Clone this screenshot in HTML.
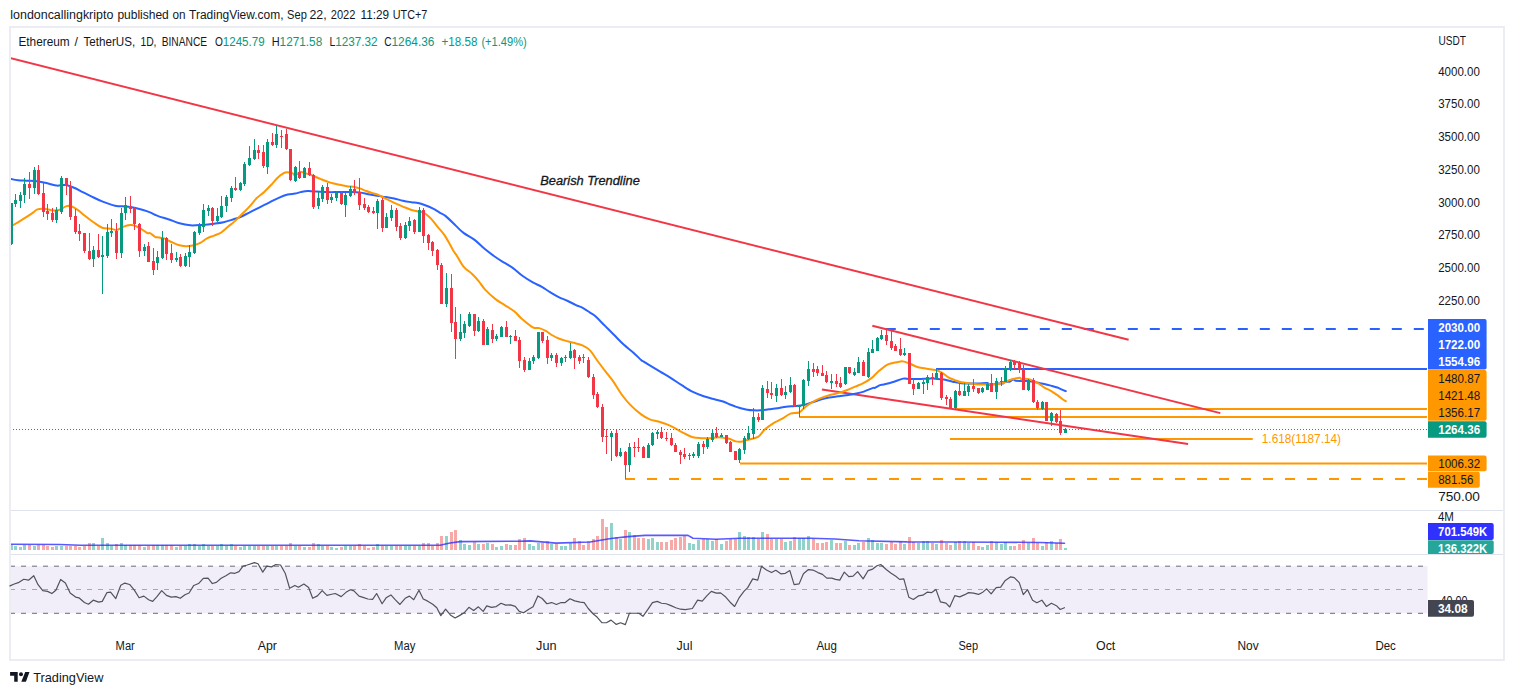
<!DOCTYPE html><html><head><meta charset="utf-8"><style>html,body{margin:0;padding:0;background:#fff;width:1514px;height:695px;overflow:hidden}svg{display:block}text{font-family:"Liberation Sans", sans-serif}</style></head><body>
<svg width="1514" height="695" viewBox="0 0 1514 695">
<rect width="1514" height="695" fill="#fff"/>
<text x="10.3" y="18.8" font-size="12.3" fill="#131722" textLength="103" lengthAdjust="spacingAndGlyphs">londoncallingkripto</text>
<text x="117.4" y="18.8" font-size="12.3" fill="#131722" textLength="51.4" lengthAdjust="spacingAndGlyphs">published</text>
<text x="172.4" y="18.8" font-size="12.3" fill="#131722" textLength="13" lengthAdjust="spacingAndGlyphs">on</text>
<text x="189.1" y="18.8" font-size="12.3" fill="#131722" textLength="94.4" lengthAdjust="spacingAndGlyphs">TradingView.com,</text>
<text x="287.1" y="18.8" font-size="12.3" fill="#131722" textLength="19.7" lengthAdjust="spacingAndGlyphs">Sep</text>
<text x="309.4" y="18.8" font-size="12.3" fill="#131722" textLength="17.2" lengthAdjust="spacingAndGlyphs">22,</text>
<text x="330.8" y="18.8" font-size="12.3" fill="#131722" textLength="24.6" lengthAdjust="spacingAndGlyphs">2022</text>
<text x="360.5" y="18.8" font-size="12.3" fill="#131722" textLength="28.6" lengthAdjust="spacingAndGlyphs">11:29</text>
<text x="392.8" y="18.8" font-size="12.3" fill="#131722" textLength="34.5" lengthAdjust="spacingAndGlyphs">UTC+7</text>
<rect x="10" y="27" width="1494" height="633" fill="none" stroke="#ebedf2" stroke-width="2"/>
<rect x="11" y="510" width="1492" height="1" fill="#e0e3eb"/>
<rect x="11" y="554" width="1492" height="1" fill="#e0e3eb"/>
<text x="74.6" y="45.9" font-size="12.3" fill="#131722">/</text>
<text x="18.4" y="45.9" font-size="12.3" fill="#131722" textLength="51.3" lengthAdjust="spacingAndGlyphs">Ethereum</text>
<text x="83.4" y="45.9" font-size="12.3" fill="#131722" textLength="51.8" lengthAdjust="spacingAndGlyphs">TetherUS,</text>
<text x="140.4" y="45.9" font-size="12.3" fill="#131722" textLength="16.1" lengthAdjust="spacingAndGlyphs">1D,</text>
<text x="161.7" y="45.9" font-size="12.3" fill="#131722" textLength="45.4" lengthAdjust="spacingAndGlyphs">BINANCE</text>
<text x="214.9" y="45.9" font-size="12.3" fill="#131722" textLength="7.9" lengthAdjust="spacingAndGlyphs">O</text>
<text x="271.7" y="45.9" font-size="12.3" fill="#131722" textLength="7.9" lengthAdjust="spacingAndGlyphs">H</text>
<text x="329.4" y="45.9" font-size="12.3" fill="#131722" textLength="5.8" lengthAdjust="spacingAndGlyphs">L</text>
<text x="384.3" y="45.9" font-size="12.3" fill="#131722" textLength="7.3" lengthAdjust="spacingAndGlyphs">C</text>
<text x="222.8" y="45.9" font-size="12.3" fill="#089981" textLength="41.8" lengthAdjust="spacingAndGlyphs">1245.79</text>
<text x="279.6" y="45.9" font-size="12.3" fill="#089981" textLength="42.6" lengthAdjust="spacingAndGlyphs">1271.58</text>
<text x="335.2" y="45.9" font-size="12.3" fill="#089981" textLength="42.4" lengthAdjust="spacingAndGlyphs">1237.32</text>
<text x="391.5" y="45.9" font-size="12.3" fill="#089981" textLength="42.9" lengthAdjust="spacingAndGlyphs">1264.36</text>
<text x="441.5" y="45.9" font-size="12.3" fill="#089981" textLength="35.9" lengthAdjust="spacingAndGlyphs">+18.58</text>
<text x="481.4" y="45.9" font-size="12.3" fill="#089981" textLength="45.4" lengthAdjust="spacingAndGlyphs">(+1.49%)</text>
<text x="1438.4" y="44.8" font-size="12.3" fill="#131722" textLength="27.5" lengthAdjust="spacingAndGlyphs">USDT</text>
<text x="1438.2" y="75.8" font-size="12.3" fill="#131722" textLength="41.7" lengthAdjust="spacingAndGlyphs">4000.00</text>
<text x="1438.2" y="108.48" font-size="12.3" fill="#131722" textLength="41.7" lengthAdjust="spacingAndGlyphs">3750.00</text>
<text x="1438.2" y="141.16" font-size="12.3" fill="#131722" textLength="41.7" lengthAdjust="spacingAndGlyphs">3500.00</text>
<text x="1438.2" y="173.84" font-size="12.3" fill="#131722" textLength="41.7" lengthAdjust="spacingAndGlyphs">3250.00</text>
<text x="1438.2" y="206.52" font-size="12.3" fill="#131722" textLength="41.7" lengthAdjust="spacingAndGlyphs">3000.00</text>
<text x="1438.2" y="239.2" font-size="12.3" fill="#131722" textLength="41.7" lengthAdjust="spacingAndGlyphs">2750.00</text>
<text x="1438.2" y="271.88" font-size="12.3" fill="#131722" textLength="41.7" lengthAdjust="spacingAndGlyphs">2500.00</text>
<text x="1438.2" y="304.56" font-size="12.3" fill="#131722" textLength="41.7" lengthAdjust="spacingAndGlyphs">2250.00</text>
<text x="1438.2" y="500.64" font-size="12.3" fill="#131722" textLength="41.7" lengthAdjust="spacingAndGlyphs">750.00</text>
<defs><clipPath id="cp"><rect x="11" y="28" width="1416" height="482"/></clipPath></defs>
<g clip-path="url(#cp)">
<line x1="885.8" y1="329" x2="1428" y2="329" stroke="#2962ff" stroke-width="2" stroke-dasharray="10 12"/>
<line x1="936" y1="369" x2="1428" y2="369" stroke="#2962ff" stroke-width="2"/>
<line x1="955" y1="409" x2="1428" y2="409" stroke="#ff9800" stroke-width="2"/>
<line x1="799" y1="417" x2="1428" y2="417" stroke="#ff9800" stroke-width="2"/>
<line x1="950" y1="438.9" x2="1252.7" y2="438.9" stroke="#ff9800" stroke-width="2"/>
<line x1="740" y1="463.4" x2="1428" y2="463.4" stroke="#ff9800" stroke-width="2"/>
<line x1="625" y1="479" x2="1428" y2="479" stroke="#ff9800" stroke-width="2" stroke-dasharray="10 12"/>
<line x1="10" y1="58" x2="1128.6" y2="339.8" stroke="#f23645" stroke-width="2"/>
<line x1="872.3" y1="325.7" x2="1220.3" y2="413.1" stroke="#f23645" stroke-width="2"/>
<line x1="821.9" y1="389.6" x2="1188.1" y2="444" stroke="#f23645" stroke-width="2"/>
<path fill="none" stroke="#2962ff" stroke-width="2" stroke-linejoin="round" stroke-linecap="round" d="M9.32 178.49 C10.76 178.78 15.07 179.86 17.95 180.22 C20.83 180.58 23.35 180.47 26.58 180.65 C29.82 180.83 33.78 180.83 37.37 181.29 C40.97 181.76 44.93 182.73 48.17 183.45 C51.4 184.17 53.92 185.36 56.8 185.61 C59.68 185.86 62.55 184.6 65.43 184.96 C68.31 185.32 71.19 186.58 74.06 187.77 C76.94 188.96 79.82 190.65 82.7 192.09 C85.58 193.53 88.09 194.86 91.33 196.4 C94.57 197.95 98.17 199.82 102.12 201.37 C106.08 202.91 111.12 204.82 115.07 205.68 C119.03 206.55 122.63 206.19 125.86 206.55 C129.1 206.91 131.62 207.27 134.5 207.84 C137.37 208.42 140.55 209.26 143.13 210 C145.71 210.74 148.02 211.52 150 212.31 C151.98 213.1 153.42 214.04 155 214.75 C156.58 215.46 157.16 215.8 159.49 216.58 C161.82 217.36 165.82 218.36 168.99 219.43 C172.15 220.5 174.92 222 178.48 222.99 C182.04 223.98 186.39 225.05 190.35 225.36 C194.3 225.68 198.26 225.17 202.22 224.89 C206.17 224.61 210.52 224.14 214.08 223.7 C217.64 223.27 220.41 222.99 223.58 222.28 C226.74 221.57 230.3 220.3 233.07 219.43 C235.84 218.56 237.42 218.24 240.19 217.06 C242.96 215.87 246.52 213.89 249.68 212.31 C252.85 210.73 256.01 209.15 259.18 207.56 C262.34 205.98 265.51 204.4 268.67 202.82 C271.84 201.23 275 199.45 278.16 198.07 C281.33 196.69 284.85 195.25 287.66 194.51 C290.46 193.76 292.82 194 295 193.6 C297.18 193.2 298.58 192.54 300.74 192.11 C302.9 191.68 305.67 191.12 307.95 191.01 C310.23 190.9 311.19 191.26 314.42 191.44 C317.66 191.62 323.42 191.98 327.37 192.09 C331.33 192.19 334.57 192.09 338.17 192.09 C341.76 192.09 345.36 192.01 348.96 192.09 C352.55 192.16 356.51 192.16 359.75 192.52 C362.99 192.88 365.5 193.71 368.38 194.24 C371.26 194.78 374.14 195.29 377.01 195.76 C379.89 196.22 382.77 196.58 385.65 197.05 C388.53 197.52 391.4 197.95 394.28 198.56 C397.16 199.17 400.04 200.11 402.91 200.72 C405.79 201.33 409.03 201.83 411.55 202.23 C414.06 202.63 415.86 202.63 418.02 203.09 C420.18 203.56 421.98 204.1 424.5 205.04 C427.01 205.97 430.61 207.45 433.13 208.71 C435.65 209.96 437.5 211.36 439.6 212.59 C441.7 213.82 443 213.89 445.73 216.11 C448.45 218.33 452.93 223.04 455.95 225.89 C458.97 228.73 460.7 230.79 463.86 233.16 C467.03 235.54 471.43 237.48 474.94 240.13 C478.44 242.77 481.35 246.11 484.88 249.02 C488.41 251.92 492.8 255.23 496.12 257.55 C499.43 259.88 501.87 261.15 504.75 262.95 C507.63 264.75 510.5 266.26 513.38 268.35 C516.26 270.43 518.78 273.13 522.01 275.47 C525.25 277.81 529.57 280.5 532.81 282.37 C536.04 284.24 538.56 285.07 541.44 286.69 C544.32 288.31 547.19 290.36 550.07 292.09 C552.95 293.81 555.83 295.61 558.71 297.05 C561.58 298.49 564.46 299.39 567.34 300.72 C570.22 302.05 573.27 303.78 575.97 305.04 C578.67 306.29 581.19 307.01 583.53 308.27 C585.86 309.53 588.06 311.29 590 312.59 C591.94 313.89 592.74 313.91 595.19 316.08 C597.64 318.24 601.52 322.41 604.68 325.57 C607.85 328.73 611.01 331.9 614.18 335.06 C617.34 338.23 620.51 341.66 623.67 344.56 C626.84 347.46 630.26 349.89 633.16 352.47 C636.07 355.04 639.53 358.58 641.12 360 C642.7 361.42 641.22 360.11 642.66 361.01 C644.1 361.91 646.77 363.59 649.75 365.4 C652.73 367.21 656.94 369.71 660.54 371.87 C664.14 374.03 667.73 376.08 671.33 378.35 C674.93 380.61 678.53 383.2 682.12 385.47 C685.72 387.73 689.32 390.14 692.91 391.94 C696.51 393.74 700.11 395.04 703.71 396.26 C707.3 397.48 711.26 398.42 714.5 399.28 C717.73 400.14 720.55 400.56 723.13 401.44 C725.71 402.31 728.02 403.71 730 404.53 C731.98 405.36 733.56 405.9 735 406.4 C736.44 406.91 736.59 407 738.63 407.55 C740.68 408.11 744.75 409.24 747.27 409.71 C749.78 410.18 751.58 410.25 753.74 410.36 C755.9 410.47 757.7 410.54 760.22 410.36 C762.73 410.18 765.97 409.64 768.85 409.28 C771.73 408.92 774.6 408.63 777.48 408.2 C780.36 407.77 783.24 407.05 786.12 406.69 C788.99 406.33 791.87 406.33 794.75 406.04 C797.63 405.76 800.5 405.58 803.38 404.96 C806.26 404.35 809.14 403.27 812.01 402.37 C814.89 401.47 817.77 400.4 820.65 399.57 C823.53 398.74 826.4 397.95 829.28 397.41 C832.16 396.87 835.04 396.69 837.91 396.33 C840.79 395.97 843.67 395.68 846.55 395.25 C849.42 394.82 852.3 394.35 855.18 393.74 C858.06 393.13 860.94 392.52 863.81 391.58 C866.69 390.65 870.58 388.78 872.45 388.13 C874.31 387.48 873.74 388.2 875 387.7 C876.26 387.19 878.56 385.65 880 385.11 C881.44 384.57 881.59 384.93 883.63 384.46 C885.68 383.99 889.03 383.27 892.27 382.3 C895.5 381.33 900.18 379.17 903.06 378.63 C905.94 378.09 907.01 378.99 909.53 379.06 C912.05 379.14 914.93 379.14 918.17 379.06 C921.4 378.99 926.08 378.71 928.96 378.63 C931.83 378.56 932.91 378.49 935.43 378.63 C937.95 378.78 941.19 378.99 944.06 379.5 C946.94 380 949.82 381.01 952.7 381.65 C955.58 382.3 958.45 383.09 961.33 383.38 C964.21 383.67 967.09 383.38 969.96 383.38 C972.84 383.38 975.72 383.45 978.6 383.38 C981.47 383.31 985.33 382.68 987.23 382.95 C989.13 383.22 988.51 384.86 990 384.97 C991.49 385.09 994.01 383.9 996.17 383.64 C998.33 383.38 1001.57 383.75 1002.95 383.42 C1004.34 383.09 1003.42 381.94 1004.5 381.65 C1005.58 381.37 1007.99 382.1 1009.43 381.74 C1010.87 381.38 1012.05 379.65 1013.13 379.5 C1014.21 379.35 1014.52 380.57 1015.91 380.83 C1017.29 381.08 1019.7 380.98 1021.43 381.03 C1023.15 381.07 1024.38 380.97 1026.27 381.09 C1028.16 381.21 1030.59 381.41 1032.75 381.74 C1034.91 382.06 1037.28 382.66 1039.22 383.03 C1041.17 383.4 1042.46 383.51 1044.4 383.94 C1046.35 384.37 1048.72 385.02 1050.88 385.62 C1053.04 386.23 1055.41 386.85 1057.36 387.56 C1059.3 388.28 1061.14 389.29 1062.54 389.9 C1063.94 390.5 1065.24 390.98 1065.78 391.19"/>
<path fill="none" stroke="#ff9800" stroke-width="2" stroke-linejoin="round" stroke-linecap="round" d="M11.47 225.97 C12.55 225.36 15.43 223.81 17.95 222.3 C20.47 220.79 24.06 218.53 26.58 216.91 C29.1 215.29 31.26 213.85 33.06 212.59 C34.86 211.33 35.58 210 37.37 209.35 C39.17 208.71 41.33 208.53 43.85 208.71 C46.37 208.88 49.96 210.22 52.48 210.43 C55 210.65 56.62 210.72 58.96 210 C61.29 209.28 64.35 206.69 66.51 206.12 C68.67 205.54 69.93 205.83 71.91 206.55 C73.88 207.27 76.22 208.88 78.38 210.43 C80.54 211.98 82.34 213.85 84.86 215.83 C87.37 217.81 90.61 220.32 93.49 222.3 C96.37 224.28 99.24 226.62 102.12 227.7 C105 228.78 108.24 228.42 110.76 228.78 C113.27 229.14 115.07 230.22 117.23 229.86 C119.39 229.5 121.55 227.41 123.71 226.62 C125.86 225.83 128.38 225.29 130.18 225.11 C131.98 224.93 132.7 224.93 134.5 225.54 C136.29 226.15 138.81 227.52 140.97 228.78 C143.13 230.04 145.94 232.36 147.45 233.09 C148.95 233.83 148.74 232.58 150 233.2 C151.26 233.81 153.81 236.09 155 236.76 C156.19 237.44 155.58 236.96 157.12 237.23 C158.66 237.51 161.87 237.63 164.24 238.42 C166.61 239.21 168.99 240.87 171.36 241.98 C173.73 243.09 176.11 244.35 178.48 245.06 C180.85 245.78 183.23 246.17 185.6 246.25 C187.97 246.33 190.35 246.05 192.72 245.54 C195.09 245.02 197.47 244.35 199.84 243.16 C202.22 241.98 204.59 239.68 206.96 238.42 C209.34 237.15 211.71 236.56 214.08 235.57 C216.46 234.58 218.83 233.99 221.2 232.48 C223.58 230.98 225.95 228.53 228.32 226.55 C230.7 224.57 233.07 222.79 235.44 220.62 C237.82 218.44 240.19 215.87 242.56 213.5 C244.94 211.12 247.31 208.95 249.68 206.38 C252.06 203.81 254.43 200.44 256.8 198.07 C259.18 195.7 261.55 194.31 263.92 192.14 C266.3 189.96 268.67 187.51 271.04 185.02 C273.42 182.52 275.79 179.28 278.16 177.18 C280.54 175.09 282.91 173.11 285.28 172.44 C287.66 171.76 290.79 172.64 292.41 173.15 C294.02 173.65 293.73 175.67 295 175.47 C296.27 175.27 298.56 172.43 300 171.96 C301.44 171.49 301.59 172.08 303.63 172.66 C305.68 173.25 309.39 174.39 312.27 175.47 C315.14 176.55 318.02 177.99 320.9 179.14 C323.78 180.29 326.65 181.47 329.53 182.37 C332.41 183.27 335.29 183.88 338.17 184.53 C341.04 185.18 344.28 185.9 346.8 186.26 C349.32 186.62 351.12 186.33 353.27 186.69 C355.43 187.05 357.59 187.7 359.75 188.42 C361.91 189.14 364.06 190.22 366.22 191.01 C368.38 191.8 370.54 192.45 372.7 193.17 C374.86 193.88 377.01 194.42 379.17 195.32 C381.33 196.22 383.13 197.3 385.65 198.56 C388.17 199.82 391.4 201.55 394.28 202.88 C397.16 204.21 400.04 205.36 402.91 206.55 C405.79 207.73 409.03 209.17 411.55 210 C414.06 210.83 415.86 211.01 418.02 211.51 C420.18 212.01 422.34 211.83 424.5 213.02 C426.65 214.21 428.81 216.37 430.97 218.63 C433.13 220.9 435.11 223.74 437.45 226.62 C439.78 229.5 442.42 232 445 235.9 C447.58 239.8 450.91 246.57 452.95 250 C454.99 253.43 455.47 253.67 457.27 256.47 C459.06 259.28 461.22 263.88 463.74 266.83 C466.26 269.78 469.86 271.76 472.37 274.17 C474.89 276.58 476.69 278.67 478.85 281.29 C481.01 283.92 482.45 286.87 485.32 289.93 C488.2 292.99 492.88 297.12 496.12 299.64 C499.35 302.16 501.69 303.06 504.75 305.04 C507.81 307.01 511.58 309.17 514.46 311.51 C517.34 313.85 518.96 316.44 522.01 319.06 C525.07 321.69 529.93 325.76 532.81 327.27 C535.68 328.78 537.12 327.52 539.28 328.13 C541.44 328.74 543.6 329.75 545.76 330.94 C547.91 332.12 550.07 333.99 552.23 335.25 C554.39 336.51 556.55 337.59 558.71 338.49 C560.86 339.39 562.66 339.93 565.18 340.65 C567.7 341.37 570.94 342.01 573.81 342.81 C576.69 343.6 579.75 344.14 582.45 345.4 C585.14 346.65 587.6 347.93 590 350.36 C592.4 352.79 594.11 356.24 596.87 360 C599.63 363.76 603.88 369.42 606.58 372.95 C609.28 376.47 610.54 377.55 613.06 381.15 C615.58 384.75 618.81 390.58 621.69 394.53 C624.57 398.49 627.09 401.58 630.32 404.89 C633.56 408.2 637.88 411.98 641.12 414.39 C644.35 416.8 646.87 418.17 649.75 419.35 C652.63 420.54 655.5 420.68 658.38 421.51 C661.26 422.34 664.14 423.13 667.01 424.32 C669.89 425.5 672.77 427.12 675.65 428.63 C678.53 430.14 681.4 431.94 684.28 433.38 C687.16 434.82 690.04 436.47 692.91 437.27 C695.79 438.06 698.67 437.99 701.55 438.13 C704.42 438.27 707.3 438.27 710.18 438.13 C713.06 437.99 716.29 437.27 718.81 437.27 C721.33 437.27 723.42 437.83 725.29 438.13 C727.15 438.43 728.26 438.52 730 439.06 C731.74 439.61 733.94 440.97 735.74 441.4 C737.54 441.83 738.87 441.9 740.79 441.65 C742.71 441.41 744.39 440.72 747.27 439.93 C750.14 439.14 755.18 438.6 758.06 436.91 C760.94 435.22 762.01 432.05 764.53 429.78 C767.05 427.52 770.29 425.11 773.17 423.31 C776.04 421.51 778.92 420.61 781.8 418.99 C784.68 417.37 787.55 414.68 790.43 413.6 C793.31 412.52 796.55 413.67 799.06 412.52 C801.58 411.37 803.38 408.38 805.54 406.69 C807.7 405 809.5 403.81 812.01 402.37 C814.53 400.94 817.77 399.24 820.65 398.06 C823.53 396.87 826.4 396.08 829.28 395.25 C832.16 394.42 835.04 393.92 837.91 393.09 C840.79 392.27 843.67 391.37 846.55 390.29 C849.42 389.21 852.3 387.84 855.18 386.62 C858.06 385.4 860.94 384.5 863.81 382.95 C866.69 381.4 870.58 378.71 872.45 377.34 C874.31 375.97 873.62 376.04 875 374.75 C876.38 373.45 878.58 371.29 880.74 369.57 C882.9 367.84 885.31 365.61 887.95 364.39 C890.59 363.17 894.06 362.73 896.58 362.23 C899.1 361.73 900.9 361.15 903.06 361.37 C905.22 361.58 907.01 362.55 909.53 363.53 C912.05 364.5 915.29 366.33 918.17 367.19 C921.04 368.06 923.92 368.24 926.8 368.71 C929.68 369.17 932.91 369.35 935.43 370 C937.95 370.65 939.75 371.37 941.91 372.59 C944.06 373.81 946.22 376.08 948.38 377.34 C950.54 378.6 952.7 379.32 954.86 380.14 C957.01 380.97 958.81 381.76 961.33 382.3 C963.85 382.84 967.09 383.02 969.96 383.38 C972.84 383.74 975.72 384.28 978.6 384.46 C981.47 384.64 985.33 384.48 987.23 384.46 C989.13 384.44 988.51 384.37 990 384.33 C991.49 384.28 994.06 384.42 996.17 384.2 C998.28 383.98 1000.49 383.64 1002.65 382.99 C1004.8 382.34 1006.96 381.05 1009.12 380.29 C1011.28 379.53 1013.82 378.84 1015.6 378.44 C1017.38 378.03 1018.77 377.67 1019.79 377.85 C1020.82 378.03 1021.11 379.35 1021.76 379.5 C1022.41 379.65 1022.5 378.82 1023.68 378.76 C1024.86 378.7 1027.13 378.76 1028.86 379.15 C1030.59 379.53 1032.31 380.29 1034.04 381.09 C1035.77 381.89 1037.5 382.86 1039.22 383.94 C1040.95 385.02 1042.46 386.42 1044.4 387.56 C1046.35 388.71 1048.72 389.55 1050.88 390.8 C1053.04 392.06 1055.41 393.67 1057.36 395.08 C1059.3 396.48 1061.14 398.21 1062.54 399.22 C1063.94 400.24 1065.24 400.84 1065.78 401.17"/>
<rect x="11" y="203" width="1" height="42" fill="#089981"/>
<rect x="10" y="203" width="3" height="41" fill="#089981"/>
<rect x="15" y="194" width="1" height="13" fill="#089981"/>
<rect x="14" y="200" width="3" height="4" fill="#089981"/>
<rect x="20" y="192" width="1" height="16" fill="#089981"/>
<rect x="19" y="195" width="3" height="6" fill="#089981"/>
<rect x="24" y="178" width="1" height="25" fill="#089981"/>
<rect x="23" y="184" width="3" height="11" fill="#089981"/>
<rect x="29" y="172" width="1" height="27" fill="#f23645"/>
<rect x="28" y="184" width="3" height="4" fill="#f23645"/>
<rect x="34" y="167" width="1" height="27" fill="#089981"/>
<rect x="33" y="170" width="3" height="18" fill="#089981"/>
<rect x="38" y="165" width="1" height="30" fill="#f23645"/>
<rect x="37" y="170" width="3" height="24" fill="#f23645"/>
<rect x="43" y="183" width="1" height="34" fill="#f23645"/>
<rect x="42" y="193" width="3" height="19" fill="#f23645"/>
<rect x="47" y="204" width="1" height="16" fill="#f23645"/>
<rect x="46" y="211" width="3" height="3" fill="#f23645"/>
<rect x="52" y="208" width="1" height="14" fill="#f23645"/>
<rect x="51" y="213" width="3" height="7" fill="#f23645"/>
<rect x="56" y="207" width="1" height="16" fill="#089981"/>
<rect x="55" y="210" width="3" height="10" fill="#089981"/>
<rect x="61" y="176" width="1" height="38" fill="#089981"/>
<rect x="60" y="178" width="3" height="34" fill="#089981"/>
<rect x="66" y="178" width="1" height="17" fill="#f23645"/>
<rect x="65" y="178" width="3" height="8" fill="#f23645"/>
<rect x="70" y="181" width="1" height="39" fill="#f23645"/>
<rect x="69" y="186" width="3" height="31" fill="#f23645"/>
<rect x="75" y="209" width="1" height="25" fill="#f23645"/>
<rect x="74" y="216" width="3" height="16" fill="#f23645"/>
<rect x="79" y="224" width="1" height="17" fill="#f23645"/>
<rect x="78" y="231" width="3" height="3" fill="#f23645"/>
<rect x="84" y="233" width="1" height="20" fill="#f23645"/>
<rect x="83" y="233" width="3" height="18" fill="#f23645"/>
<rect x="89" y="233" width="1" height="27" fill="#f23645"/>
<rect x="88" y="251" width="3" height="8" fill="#f23645"/>
<rect x="93" y="246" width="1" height="21" fill="#089981"/>
<rect x="92" y="250" width="3" height="9" fill="#089981"/>
<rect x="98" y="234" width="1" height="24" fill="#f23645"/>
<rect x="97" y="250" width="3" height="7" fill="#f23645"/>
<rect x="102" y="236" width="1" height="58" fill="#089981"/>
<rect x="101" y="255" width="3" height="2" fill="#089981"/>
<rect x="107" y="224" width="1" height="34" fill="#089981"/>
<rect x="106" y="232" width="3" height="24" fill="#089981"/>
<rect x="111" y="219" width="1" height="18" fill="#089981"/>
<rect x="110" y="231" width="3" height="2" fill="#089981"/>
<rect x="116" y="223" width="1" height="36" fill="#f23645"/>
<rect x="115" y="231" width="3" height="22" fill="#f23645"/>
<rect x="121" y="208" width="1" height="50" fill="#089981"/>
<rect x="120" y="213" width="3" height="40" fill="#089981"/>
<rect x="125" y="197" width="1" height="23" fill="#089981"/>
<rect x="124" y="205" width="3" height="8" fill="#089981"/>
<rect x="130" y="196" width="1" height="17" fill="#f23645"/>
<rect x="129" y="206" width="3" height="3" fill="#f23645"/>
<rect x="134" y="207" width="1" height="23" fill="#f23645"/>
<rect x="133" y="208" width="3" height="16" fill="#f23645"/>
<rect x="139" y="223" width="1" height="34" fill="#f23645"/>
<rect x="138" y="224" width="3" height="27" fill="#f23645"/>
<rect x="144" y="244" width="1" height="12" fill="#089981"/>
<rect x="143" y="247" width="3" height="4" fill="#089981"/>
<rect x="148" y="242" width="1" height="20" fill="#f23645"/>
<rect x="147" y="246" width="3" height="16" fill="#f23645"/>
<rect x="153" y="248" width="1" height="27" fill="#f23645"/>
<rect x="152" y="261" width="3" height="9" fill="#f23645"/>
<rect x="157" y="251" width="1" height="19" fill="#089981"/>
<rect x="156" y="257" width="3" height="6" fill="#089981"/>
<rect x="162" y="231" width="1" height="28" fill="#089981"/>
<rect x="161" y="238" width="3" height="20" fill="#089981"/>
<rect x="166" y="237" width="1" height="23" fill="#f23645"/>
<rect x="165" y="238" width="3" height="16" fill="#f23645"/>
<rect x="171" y="244" width="1" height="19" fill="#f23645"/>
<rect x="170" y="253" width="3" height="7" fill="#f23645"/>
<rect x="176" y="252" width="1" height="10" fill="#089981"/>
<rect x="175" y="258" width="3" height="2" fill="#089981"/>
<rect x="180" y="254" width="1" height="13" fill="#f23645"/>
<rect x="179" y="257" width="3" height="9" fill="#f23645"/>
<rect x="185" y="253" width="1" height="14" fill="#089981"/>
<rect x="184" y="256" width="3" height="10" fill="#089981"/>
<rect x="189" y="245" width="1" height="22" fill="#089981"/>
<rect x="188" y="252" width="3" height="5" fill="#089981"/>
<rect x="194" y="231" width="1" height="23" fill="#089981"/>
<rect x="193" y="232" width="3" height="21" fill="#089981"/>
<rect x="199" y="223" width="1" height="12" fill="#089981"/>
<rect x="198" y="226" width="3" height="7" fill="#089981"/>
<rect x="203" y="204" width="1" height="28" fill="#089981"/>
<rect x="202" y="210" width="3" height="17" fill="#089981"/>
<rect x="208" y="205" width="1" height="11" fill="#089981"/>
<rect x="207" y="208" width="3" height="3" fill="#089981"/>
<rect x="212" y="207" width="1" height="19" fill="#f23645"/>
<rect x="211" y="208" width="3" height="13" fill="#f23645"/>
<rect x="217" y="208" width="1" height="16" fill="#089981"/>
<rect x="216" y="216" width="3" height="5" fill="#089981"/>
<rect x="221" y="196" width="1" height="22" fill="#089981"/>
<rect x="220" y="206" width="3" height="11" fill="#089981"/>
<rect x="226" y="195" width="1" height="17" fill="#089981"/>
<rect x="225" y="197" width="3" height="9" fill="#089981"/>
<rect x="231" y="186" width="1" height="16" fill="#089981"/>
<rect x="230" y="188" width="3" height="10" fill="#089981"/>
<rect x="235" y="177" width="1" height="14" fill="#f23645"/>
<rect x="234" y="188" width="3" height="2" fill="#f23645"/>
<rect x="240" y="182" width="1" height="9" fill="#089981"/>
<rect x="239" y="183" width="3" height="7" fill="#089981"/>
<rect x="244" y="162" width="1" height="24" fill="#089981"/>
<rect x="243" y="164" width="3" height="20" fill="#089981"/>
<rect x="249" y="146" width="1" height="20" fill="#089981"/>
<rect x="248" y="158" width="3" height="7" fill="#089981"/>
<rect x="254" y="139" width="1" height="21" fill="#089981"/>
<rect x="253" y="150" width="3" height="9" fill="#089981"/>
<rect x="258" y="145" width="1" height="14" fill="#f23645"/>
<rect x="257" y="150" width="3" height="3" fill="#f23645"/>
<rect x="263" y="145" width="1" height="23" fill="#f23645"/>
<rect x="262" y="152" width="3" height="14" fill="#f23645"/>
<rect x="267" y="139" width="1" height="35" fill="#089981"/>
<rect x="266" y="142" width="3" height="25" fill="#089981"/>
<rect x="272" y="133" width="1" height="13" fill="#f23645"/>
<rect x="271" y="142" width="3" height="3" fill="#f23645"/>
<rect x="276" y="126" width="1" height="22" fill="#089981"/>
<rect x="275" y="134" width="3" height="11" fill="#089981"/>
<rect x="281" y="130" width="1" height="18" fill="#f23645"/>
<rect x="280" y="136" width="3" height="1" fill="#f23645"/>
<rect x="286" y="129" width="1" height="21" fill="#f23645"/>
<rect x="285" y="134" width="3" height="15" fill="#f23645"/>
<rect x="290" y="149" width="1" height="32" fill="#f23645"/>
<rect x="289" y="149" width="3" height="31" fill="#f23645"/>
<rect x="295" y="166" width="1" height="16" fill="#089981"/>
<rect x="294" y="167" width="3" height="14" fill="#089981"/>
<rect x="299" y="161" width="1" height="18" fill="#f23645"/>
<rect x="298" y="172" width="3" height="6" fill="#f23645"/>
<rect x="304" y="167" width="1" height="11" fill="#089981"/>
<rect x="303" y="168" width="3" height="10" fill="#089981"/>
<rect x="309" y="162" width="1" height="14" fill="#f23645"/>
<rect x="308" y="168" width="3" height="7" fill="#f23645"/>
<rect x="313" y="174" width="1" height="35" fill="#f23645"/>
<rect x="312" y="175" width="3" height="32" fill="#f23645"/>
<rect x="318" y="192" width="1" height="17" fill="#089981"/>
<rect x="317" y="198" width="3" height="8" fill="#089981"/>
<rect x="322" y="185" width="1" height="17" fill="#089981"/>
<rect x="321" y="187" width="3" height="12" fill="#089981"/>
<rect x="327" y="183" width="1" height="21" fill="#f23645"/>
<rect x="326" y="187" width="3" height="13" fill="#f23645"/>
<rect x="331" y="194" width="1" height="9" fill="#089981"/>
<rect x="330" y="197" width="3" height="3" fill="#089981"/>
<rect x="336" y="191" width="1" height="10" fill="#089981"/>
<rect x="335" y="193" width="3" height="5" fill="#089981"/>
<rect x="341" y="191" width="1" height="14" fill="#f23645"/>
<rect x="340" y="193" width="3" height="11" fill="#f23645"/>
<rect x="345" y="193" width="1" height="24" fill="#089981"/>
<rect x="344" y="195" width="3" height="10" fill="#089981"/>
<rect x="350" y="186" width="1" height="11" fill="#089981"/>
<rect x="349" y="189" width="3" height="7" fill="#089981"/>
<rect x="354" y="180" width="1" height="15" fill="#f23645"/>
<rect x="353" y="189" width="3" height="4" fill="#f23645"/>
<rect x="359" y="178" width="1" height="32" fill="#f23645"/>
<rect x="358" y="192" width="3" height="13" fill="#f23645"/>
<rect x="364" y="198" width="1" height="12" fill="#f23645"/>
<rect x="363" y="204" width="3" height="4" fill="#f23645"/>
<rect x="368" y="205" width="1" height="8" fill="#f23645"/>
<rect x="367" y="207" width="3" height="5" fill="#f23645"/>
<rect x="373" y="207" width="1" height="7" fill="#f23645"/>
<rect x="372" y="211" width="3" height="2" fill="#f23645"/>
<rect x="377" y="199" width="1" height="30" fill="#089981"/>
<rect x="376" y="201" width="3" height="12" fill="#089981"/>
<rect x="382" y="198" width="1" height="34" fill="#f23645"/>
<rect x="381" y="200" width="3" height="28" fill="#f23645"/>
<rect x="386" y="213" width="1" height="15" fill="#089981"/>
<rect x="385" y="217" width="3" height="11" fill="#089981"/>
<rect x="391" y="205" width="1" height="16" fill="#089981"/>
<rect x="390" y="210" width="3" height="8" fill="#089981"/>
<rect x="396" y="208" width="1" height="23" fill="#f23645"/>
<rect x="395" y="210" width="3" height="17" fill="#f23645"/>
<rect x="400" y="223" width="1" height="17" fill="#f23645"/>
<rect x="399" y="226" width="3" height="12" fill="#f23645"/>
<rect x="405" y="222" width="1" height="17" fill="#089981"/>
<rect x="404" y="225" width="3" height="13" fill="#089981"/>
<rect x="409" y="217" width="1" height="14" fill="#089981"/>
<rect x="408" y="221" width="3" height="5" fill="#089981"/>
<rect x="414" y="219" width="1" height="15" fill="#f23645"/>
<rect x="413" y="220" width="3" height="12" fill="#f23645"/>
<rect x="419" y="207" width="1" height="25" fill="#089981"/>
<rect x="418" y="210" width="3" height="22" fill="#089981"/>
<rect x="423" y="208" width="1" height="35" fill="#f23645"/>
<rect x="422" y="210" width="3" height="26" fill="#f23645"/>
<rect x="428" y="234" width="1" height="16" fill="#f23645"/>
<rect x="427" y="235" width="3" height="8" fill="#f23645"/>
<rect x="432" y="241" width="1" height="15" fill="#f23645"/>
<rect x="431" y="242" width="3" height="9" fill="#f23645"/>
<rect x="437" y="249" width="1" height="21" fill="#f23645"/>
<rect x="436" y="250" width="3" height="15" fill="#f23645"/>
<rect x="441" y="263" width="1" height="41" fill="#f23645"/>
<rect x="440" y="265" width="3" height="39" fill="#f23645"/>
<rect x="446" y="273" width="1" height="34" fill="#089981"/>
<rect x="445" y="288" width="3" height="16" fill="#089981"/>
<rect x="451" y="274" width="1" height="58" fill="#f23645"/>
<rect x="450" y="288" width="3" height="35" fill="#f23645"/>
<rect x="455" y="307" width="1" height="52" fill="#f23645"/>
<rect x="454" y="322" width="3" height="17" fill="#f23645"/>
<rect x="460" y="314" width="1" height="27" fill="#089981"/>
<rect x="459" y="332" width="3" height="7" fill="#089981"/>
<rect x="464" y="321" width="1" height="17" fill="#089981"/>
<rect x="463" y="324" width="3" height="9" fill="#089981"/>
<rect x="469" y="312" width="1" height="15" fill="#089981"/>
<rect x="468" y="314" width="3" height="12" fill="#089981"/>
<rect x="474" y="314" width="1" height="22" fill="#f23645"/>
<rect x="473" y="314" width="3" height="17" fill="#f23645"/>
<rect x="478" y="317" width="1" height="15" fill="#089981"/>
<rect x="477" y="321" width="3" height="10" fill="#089981"/>
<rect x="483" y="319" width="1" height="26" fill="#f23645"/>
<rect x="482" y="321" width="3" height="24" fill="#f23645"/>
<rect x="487" y="327" width="1" height="18" fill="#089981"/>
<rect x="486" y="329" width="3" height="16" fill="#089981"/>
<rect x="492" y="324" width="1" height="19" fill="#f23645"/>
<rect x="491" y="330" width="3" height="9" fill="#f23645"/>
<rect x="496" y="334" width="1" height="7" fill="#089981"/>
<rect x="495" y="336" width="3" height="3" fill="#089981"/>
<rect x="501" y="326" width="1" height="11" fill="#089981"/>
<rect x="500" y="327" width="3" height="10" fill="#089981"/>
<rect x="506" y="321" width="1" height="16" fill="#f23645"/>
<rect x="505" y="327" width="3" height="10" fill="#f23645"/>
<rect x="510" y="335" width="1" height="9" fill="#089981"/>
<rect x="509" y="336" width="3" height="1" fill="#089981"/>
<rect x="515" y="330" width="1" height="11" fill="#f23645"/>
<rect x="514" y="336" width="3" height="5" fill="#f23645"/>
<rect x="519" y="337" width="1" height="31" fill="#f23645"/>
<rect x="518" y="340" width="3" height="21" fill="#f23645"/>
<rect x="524" y="357" width="1" height="15" fill="#f23645"/>
<rect x="523" y="360" width="3" height="10" fill="#f23645"/>
<rect x="529" y="358" width="1" height="12" fill="#089981"/>
<rect x="528" y="361" width="3" height="9" fill="#089981"/>
<rect x="533" y="355" width="1" height="9" fill="#089981"/>
<rect x="532" y="357" width="3" height="4" fill="#089981"/>
<rect x="538" y="332" width="1" height="27" fill="#089981"/>
<rect x="537" y="332" width="3" height="26" fill="#089981"/>
<rect x="542" y="332" width="1" height="11" fill="#f23645"/>
<rect x="541" y="332" width="3" height="9" fill="#f23645"/>
<rect x="547" y="336" width="1" height="28" fill="#f23645"/>
<rect x="546" y="340" width="3" height="18" fill="#f23645"/>
<rect x="551" y="353" width="1" height="8" fill="#089981"/>
<rect x="550" y="355" width="3" height="3" fill="#089981"/>
<rect x="556" y="353" width="1" height="14" fill="#f23645"/>
<rect x="555" y="355" width="3" height="8" fill="#f23645"/>
<rect x="561" y="357" width="1" height="9" fill="#089981"/>
<rect x="560" y="358" width="3" height="5" fill="#089981"/>
<rect x="565" y="355" width="1" height="7" fill="#089981"/>
<rect x="564" y="357" width="3" height="1" fill="#089981"/>
<rect x="570" y="343" width="1" height="16" fill="#089981"/>
<rect x="569" y="351" width="3" height="7" fill="#089981"/>
<rect x="574" y="349" width="1" height="20" fill="#f23645"/>
<rect x="573" y="350" width="3" height="8" fill="#f23645"/>
<rect x="579" y="355" width="1" height="9" fill="#f23645"/>
<rect x="578" y="357" width="3" height="4" fill="#f23645"/>
<rect x="583" y="354" width="1" height="9" fill="#f23645"/>
<rect x="582" y="357" width="3" height="1" fill="#f23645"/>
<rect x="588" y="357" width="1" height="21" fill="#f23645"/>
<rect x="587" y="360" width="3" height="17" fill="#f23645"/>
<rect x="593" y="374" width="1" height="25" fill="#f23645"/>
<rect x="592" y="377" width="3" height="18" fill="#f23645"/>
<rect x="597" y="392" width="1" height="16" fill="#f23645"/>
<rect x="596" y="394" width="3" height="13" fill="#f23645"/>
<rect x="602" y="404" width="1" height="38" fill="#f23645"/>
<rect x="601" y="407" width="3" height="30" fill="#f23645"/>
<rect x="606" y="429" width="1" height="25" fill="#f23645"/>
<rect x="605" y="436" width="3" height="1" fill="#f23645"/>
<rect x="611" y="431" width="1" height="30" fill="#089981"/>
<rect x="610" y="433" width="3" height="4" fill="#089981"/>
<rect x="616" y="429" width="1" height="28" fill="#f23645"/>
<rect x="615" y="433" width="3" height="23" fill="#f23645"/>
<rect x="620" y="448" width="1" height="9" fill="#089981"/>
<rect x="619" y="452" width="3" height="4" fill="#089981"/>
<rect x="625" y="451" width="1" height="28" fill="#f23645"/>
<rect x="624" y="452" width="3" height="13" fill="#f23645"/>
<rect x="629" y="443" width="1" height="29" fill="#089981"/>
<rect x="628" y="447" width="3" height="18" fill="#089981"/>
<rect x="634" y="442" width="1" height="15" fill="#f23645"/>
<rect x="633" y="447" width="3" height="1" fill="#f23645"/>
<rect x="638" y="438" width="1" height="14" fill="#f23645"/>
<rect x="637" y="447" width="3" height="1" fill="#f23645"/>
<rect x="643" y="446" width="1" height="12" fill="#f23645"/>
<rect x="642" y="447" width="3" height="11" fill="#f23645"/>
<rect x="648" y="443" width="1" height="15" fill="#089981"/>
<rect x="647" y="445" width="3" height="13" fill="#089981"/>
<rect x="652" y="432" width="1" height="14" fill="#089981"/>
<rect x="651" y="433" width="3" height="12" fill="#089981"/>
<rect x="657" y="430" width="1" height="9" fill="#089981"/>
<rect x="656" y="432" width="3" height="2" fill="#089981"/>
<rect x="661" y="427" width="1" height="12" fill="#f23645"/>
<rect x="660" y="432" width="3" height="6" fill="#f23645"/>
<rect x="666" y="432" width="1" height="9" fill="#f23645"/>
<rect x="665" y="438" width="3" height="1" fill="#f23645"/>
<rect x="671" y="433" width="1" height="13" fill="#f23645"/>
<rect x="670" y="438" width="3" height="7" fill="#f23645"/>
<rect x="675" y="443" width="1" height="9" fill="#f23645"/>
<rect x="674" y="445" width="3" height="7" fill="#f23645"/>
<rect x="680" y="450" width="1" height="14" fill="#f23645"/>
<rect x="679" y="452" width="3" height="3" fill="#f23645"/>
<rect x="684" y="448" width="1" height="11" fill="#f23645"/>
<rect x="683" y="454" width="3" height="3" fill="#f23645"/>
<rect x="689" y="453" width="1" height="7" fill="#089981"/>
<rect x="688" y="455" width="3" height="1" fill="#089981"/>
<rect x="693" y="452" width="1" height="6" fill="#089981"/>
<rect x="692" y="454" width="3" height="2" fill="#089981"/>
<rect x="698" y="442" width="1" height="16" fill="#089981"/>
<rect x="697" y="444" width="3" height="12" fill="#089981"/>
<rect x="703" y="441" width="1" height="13" fill="#f23645"/>
<rect x="702" y="444" width="3" height="3" fill="#f23645"/>
<rect x="707" y="437" width="1" height="12" fill="#089981"/>
<rect x="706" y="439" width="3" height="8" fill="#089981"/>
<rect x="712" y="429" width="1" height="13" fill="#089981"/>
<rect x="711" y="433" width="3" height="7" fill="#089981"/>
<rect x="716" y="427" width="1" height="11" fill="#f23645"/>
<rect x="715" y="433" width="3" height="4" fill="#f23645"/>
<rect x="721" y="433" width="1" height="4" fill="#089981"/>
<rect x="720" y="435" width="3" height="2" fill="#089981"/>
<rect x="726" y="435" width="1" height="9" fill="#f23645"/>
<rect x="725" y="435" width="3" height="8" fill="#f23645"/>
<rect x="730" y="441" width="1" height="11" fill="#f23645"/>
<rect x="729" y="442" width="3" height="10" fill="#f23645"/>
<rect x="735" y="451" width="1" height="9" fill="#f23645"/>
<rect x="734" y="451" width="3" height="9" fill="#f23645"/>
<rect x="739" y="448" width="1" height="15" fill="#089981"/>
<rect x="738" y="449" width="3" height="11" fill="#089981"/>
<rect x="744" y="436" width="1" height="18" fill="#089981"/>
<rect x="743" y="438" width="3" height="12" fill="#089981"/>
<rect x="748" y="426" width="1" height="14" fill="#089981"/>
<rect x="747" y="433" width="3" height="6" fill="#089981"/>
<rect x="753" y="408" width="1" height="31" fill="#089981"/>
<rect x="752" y="417" width="3" height="17" fill="#089981"/>
<rect x="758" y="413" width="1" height="9" fill="#f23645"/>
<rect x="757" y="417" width="3" height="3" fill="#f23645"/>
<rect x="762" y="385" width="1" height="35" fill="#089981"/>
<rect x="761" y="388" width="3" height="32" fill="#089981"/>
<rect x="767" y="381" width="1" height="17" fill="#f23645"/>
<rect x="766" y="389" width="3" height="4" fill="#f23645"/>
<rect x="771" y="382" width="1" height="17" fill="#f23645"/>
<rect x="770" y="393" width="3" height="2" fill="#f23645"/>
<rect x="776" y="384" width="1" height="18" fill="#089981"/>
<rect x="775" y="388" width="3" height="8" fill="#089981"/>
<rect x="781" y="379" width="1" height="17" fill="#f23645"/>
<rect x="780" y="388" width="3" height="7" fill="#f23645"/>
<rect x="785" y="386" width="1" height="13" fill="#089981"/>
<rect x="784" y="392" width="3" height="3" fill="#089981"/>
<rect x="790" y="377" width="1" height="16" fill="#089981"/>
<rect x="789" y="385" width="3" height="7" fill="#089981"/>
<rect x="794" y="384" width="1" height="23" fill="#f23645"/>
<rect x="793" y="385" width="3" height="21" fill="#f23645"/>
<rect x="799" y="405" width="1" height="12" fill="#089981"/>
<rect x="798" y="405" width="3" height="2" fill="#089981"/>
<rect x="803" y="379" width="1" height="30" fill="#089981"/>
<rect x="802" y="380" width="3" height="26" fill="#089981"/>
<rect x="808" y="361" width="1" height="25" fill="#089981"/>
<rect x="807" y="369" width="3" height="12" fill="#089981"/>
<rect x="813" y="363" width="1" height="14" fill="#f23645"/>
<rect x="812" y="369" width="3" height="3" fill="#f23645"/>
<rect x="817" y="366" width="1" height="10" fill="#f23645"/>
<rect x="816" y="369" width="3" height="4" fill="#f23645"/>
<rect x="822" y="365" width="1" height="11" fill="#f23645"/>
<rect x="821" y="373" width="3" height="3" fill="#f23645"/>
<rect x="826" y="371" width="1" height="12" fill="#f23645"/>
<rect x="825" y="375" width="3" height="7" fill="#f23645"/>
<rect x="831" y="374" width="1" height="15" fill="#089981"/>
<rect x="830" y="381" width="3" height="2" fill="#089981"/>
<rect x="836" y="374" width="1" height="13" fill="#f23645"/>
<rect x="835" y="381" width="3" height="3" fill="#f23645"/>
<rect x="840" y="377" width="1" height="11" fill="#f23645"/>
<rect x="839" y="383" width="3" height="4" fill="#f23645"/>
<rect x="845" y="367" width="1" height="18" fill="#089981"/>
<rect x="844" y="367" width="3" height="17" fill="#089981"/>
<rect x="849" y="367" width="1" height="7" fill="#f23645"/>
<rect x="848" y="367" width="3" height="6" fill="#f23645"/>
<rect x="854" y="368" width="1" height="8" fill="#089981"/>
<rect x="853" y="372" width="3" height="3" fill="#089981"/>
<rect x="858" y="357" width="1" height="16" fill="#089981"/>
<rect x="857" y="362" width="3" height="11" fill="#089981"/>
<rect x="863" y="360" width="1" height="16" fill="#f23645"/>
<rect x="862" y="362" width="3" height="14" fill="#f23645"/>
<rect x="868" y="348" width="1" height="30" fill="#089981"/>
<rect x="867" y="352" width="3" height="25" fill="#089981"/>
<rect x="872" y="340" width="1" height="13" fill="#089981"/>
<rect x="871" y="349" width="3" height="4" fill="#089981"/>
<rect x="877" y="337" width="1" height="14" fill="#089981"/>
<rect x="876" y="338" width="3" height="13" fill="#089981"/>
<rect x="881" y="330" width="1" height="10" fill="#089981"/>
<rect x="880" y="335" width="3" height="4" fill="#089981"/>
<rect x="886" y="330" width="1" height="15" fill="#f23645"/>
<rect x="885" y="335" width="3" height="6" fill="#f23645"/>
<rect x="891" y="330" width="1" height="20" fill="#f23645"/>
<rect x="890" y="341" width="3" height="7" fill="#f23645"/>
<rect x="895" y="344" width="1" height="7" fill="#f23645"/>
<rect x="894" y="346" width="3" height="5" fill="#f23645"/>
<rect x="900" y="338" width="1" height="18" fill="#f23645"/>
<rect x="899" y="349" width="3" height="6" fill="#f23645"/>
<rect x="904" y="348" width="1" height="8" fill="#089981"/>
<rect x="903" y="353" width="3" height="2" fill="#089981"/>
<rect x="909" y="353" width="1" height="31" fill="#f23645"/>
<rect x="908" y="353" width="3" height="31" fill="#f23645"/>
<rect x="913" y="379" width="1" height="16" fill="#f23645"/>
<rect x="912" y="384" width="3" height="5" fill="#f23645"/>
<rect x="918" y="382" width="1" height="7" fill="#089981"/>
<rect x="917" y="383" width="3" height="6" fill="#089981"/>
<rect x="923" y="380" width="1" height="14" fill="#089981"/>
<rect x="922" y="382" width="3" height="2" fill="#089981"/>
<rect x="927" y="375" width="1" height="15" fill="#089981"/>
<rect x="926" y="377" width="3" height="6" fill="#089981"/>
<rect x="932" y="373" width="1" height="12" fill="#f23645"/>
<rect x="931" y="377" width="3" height="2" fill="#f23645"/>
<rect x="936" y="369" width="1" height="10" fill="#089981"/>
<rect x="935" y="373" width="3" height="6" fill="#089981"/>
<rect x="941" y="372" width="1" height="28" fill="#f23645"/>
<rect x="940" y="373" width="3" height="25" fill="#f23645"/>
<rect x="946" y="395" width="1" height="10" fill="#f23645"/>
<rect x="945" y="397" width="3" height="2" fill="#f23645"/>
<rect x="950" y="397" width="1" height="12" fill="#f23645"/>
<rect x="949" y="399" width="3" height="9" fill="#f23645"/>
<rect x="955" y="390" width="1" height="19" fill="#089981"/>
<rect x="954" y="391" width="3" height="17" fill="#089981"/>
<rect x="959" y="383" width="1" height="13" fill="#f23645"/>
<rect x="958" y="391" width="3" height="4" fill="#f23645"/>
<rect x="964" y="383" width="1" height="13" fill="#089981"/>
<rect x="963" y="391" width="3" height="5" fill="#089981"/>
<rect x="968" y="384" width="1" height="12" fill="#089981"/>
<rect x="967" y="386" width="3" height="6" fill="#089981"/>
<rect x="973" y="379" width="1" height="13" fill="#f23645"/>
<rect x="972" y="386" width="3" height="3" fill="#f23645"/>
<rect x="978" y="388" width="1" height="6" fill="#f23645"/>
<rect x="977" y="388" width="3" height="5" fill="#f23645"/>
<rect x="982" y="387" width="1" height="6" fill="#089981"/>
<rect x="981" y="388" width="3" height="4" fill="#089981"/>
<rect x="987" y="382" width="1" height="8" fill="#089981"/>
<rect x="986" y="384" width="3" height="6" fill="#089981"/>
<rect x="991" y="374" width="1" height="18" fill="#f23645"/>
<rect x="990" y="383" width="3" height="9" fill="#f23645"/>
<rect x="996" y="378" width="1" height="21" fill="#089981"/>
<rect x="995" y="381" width="3" height="11" fill="#089981"/>
<rect x="1001" y="377" width="1" height="9" fill="#089981"/>
<rect x="1000" y="381" width="3" height="1" fill="#089981"/>
<rect x="1005" y="366" width="1" height="16" fill="#089981"/>
<rect x="1004" y="368" width="3" height="14" fill="#089981"/>
<rect x="1010" y="360" width="1" height="11" fill="#089981"/>
<rect x="1009" y="362" width="3" height="8" fill="#089981"/>
<rect x="1014" y="360" width="1" height="9" fill="#f23645"/>
<rect x="1013" y="362" width="3" height="3" fill="#f23645"/>
<rect x="1019" y="361" width="1" height="12" fill="#f23645"/>
<rect x="1018" y="362" width="3" height="8" fill="#f23645"/>
<rect x="1023" y="365" width="1" height="25" fill="#f23645"/>
<rect x="1022" y="369" width="3" height="21" fill="#f23645"/>
<rect x="1028" y="379" width="1" height="12" fill="#089981"/>
<rect x="1027" y="380" width="3" height="10" fill="#089981"/>
<rect x="1033" y="378" width="1" height="25" fill="#f23645"/>
<rect x="1032" y="380" width="3" height="22" fill="#f23645"/>
<rect x="1037" y="400" width="1" height="10" fill="#f23645"/>
<rect x="1036" y="402" width="3" height="6" fill="#f23645"/>
<rect x="1042" y="401" width="1" height="9" fill="#089981"/>
<rect x="1041" y="402" width="3" height="7" fill="#089981"/>
<rect x="1046" y="402" width="1" height="19" fill="#f23645"/>
<rect x="1045" y="402" width="3" height="19" fill="#f23645"/>
<rect x="1051" y="412" width="1" height="14" fill="#089981"/>
<rect x="1050" y="413" width="3" height="8" fill="#089981"/>
<rect x="1056" y="413" width="1" height="10" fill="#f23645"/>
<rect x="1055" y="414" width="3" height="8" fill="#f23645"/>
<rect x="1060" y="410" width="1" height="25" fill="#f23645"/>
<rect x="1059" y="421" width="3" height="12" fill="#f23645"/>
<rect x="1065" y="428" width="1" height="5" fill="#089981"/>
<rect x="1064" y="429" width="3" height="4" fill="#089981"/>
<line x1="10" y1="429.5" x2="1428" y2="429.5" stroke="#089981" stroke-width="1" stroke-dasharray="1 2"/>
<text x="540.3" y="185" font-size="12.5" fill="#131722" textLength="99.5" lengthAdjust="spacingAndGlyphs" font-style="italic" stroke="#131722" stroke-width="0.3">Bearish Trendline</text>
<text x="1261.8" y="442.8" font-size="12" fill="#ff9800" textLength="79.2" lengthAdjust="spacingAndGlyphs">1.618(1187.14)</text>
</g>
<path d="M1428 319 H1484.6 Q1486.6 319 1486.6 321 V367.6 Q1486.6 369.6 1484.6 369.6 H1428 Z" fill="#2962ff"/>
<path d="M1428 370.1 H1484.6 Q1486.6 370.1 1486.6 372.1 V418.7 Q1486.6 420.7 1484.6 420.7 H1428 Z" fill="#ff9800"/>
<path d="M1428 421.3 H1484.6 Q1486.6 421.3 1486.6 423.3 V435.7 Q1486.6 437.7 1484.6 437.7 H1428 Z" fill="#089981"/>
<path d="M1428 455.4 H1484.6 Q1486.6 455.4 1486.6 457.4 V469.3 Q1486.6 471.3 1484.6 471.3 H1428 Z" fill="#ff9800"/>
<path d="M1428 471.8 H1477.8 Q1479.8 471.8 1479.8 473.8 V485.7 Q1479.8 487.7 1477.8 487.7 H1428 Z" fill="#ff9800"/>
<text x="1438.2" y="332.1" font-size="12.3" fill="#fff" textLength="41.9" lengthAdjust="spacingAndGlyphs" font-weight="bold">2030.00</text>
<text x="1438.2" y="349" font-size="12.3" fill="#fff" textLength="41.9" lengthAdjust="spacingAndGlyphs" font-weight="bold">1722.00</text>
<text x="1438.2" y="365.7" font-size="12.3" fill="#fff" textLength="41.9" lengthAdjust="spacingAndGlyphs" font-weight="bold">1554.96</text>
<text x="1438.2" y="382.6" font-size="12.3" fill="#131722" textLength="41.9" lengthAdjust="spacingAndGlyphs">1480.87</text>
<text x="1438.2" y="399.9" font-size="12.3" fill="#131722" textLength="41.9" lengthAdjust="spacingAndGlyphs">1421.48</text>
<text x="1438.2" y="416.8" font-size="12.3" fill="#131722" textLength="41.9" lengthAdjust="spacingAndGlyphs">1356.17</text>
<text x="1438.2" y="433.8" font-size="12.3" fill="#fff" textLength="41.9" lengthAdjust="spacingAndGlyphs" font-weight="bold">1264.36</text>
<text x="1438.2" y="467.7" font-size="12.3" fill="#131722" textLength="41.9" lengthAdjust="spacingAndGlyphs">1006.32</text>
<text x="1438.2" y="484.1" font-size="12.3" fill="#131722" textLength="35.2" lengthAdjust="spacingAndGlyphs">881.56</text>
<defs><clipPath id="cpv"><rect x="11" y="511" width="1416" height="43"/></clipPath></defs><g clip-path="url(#cpv)">
<rect x="10" y="545" width="3" height="5" fill="#92d2cc"/>
<rect x="14" y="546" width="3" height="4" fill="#92d2cc"/>
<rect x="19" y="547" width="3" height="3" fill="#92d2cc"/>
<rect x="23" y="545" width="3" height="5" fill="#92d2cc"/>
<rect x="28" y="545" width="3" height="5" fill="#f7a9a7"/>
<rect x="33" y="546" width="3" height="4" fill="#92d2cc"/>
<rect x="37" y="545" width="3" height="5" fill="#f7a9a7"/>
<rect x="42" y="545" width="3" height="5" fill="#f7a9a7"/>
<rect x="46" y="546" width="3" height="4" fill="#f7a9a7"/>
<rect x="51" y="547" width="3" height="3" fill="#f7a9a7"/>
<rect x="55" y="546" width="3" height="4" fill="#92d2cc"/>
<rect x="60" y="546" width="3" height="4" fill="#92d2cc"/>
<rect x="65" y="546" width="3" height="4" fill="#f7a9a7"/>
<rect x="69" y="546" width="3" height="4" fill="#f7a9a7"/>
<rect x="74" y="546" width="3" height="4" fill="#f7a9a7"/>
<rect x="78" y="547" width="3" height="3" fill="#f7a9a7"/>
<rect x="83" y="546" width="3" height="4" fill="#f7a9a7"/>
<rect x="88" y="543" width="3" height="7" fill="#f7a9a7"/>
<rect x="92" y="543" width="3" height="7" fill="#92d2cc"/>
<rect x="97" y="546" width="3" height="4" fill="#f7a9a7"/>
<rect x="101" y="538" width="3" height="12" fill="#92d2cc"/>
<rect x="106" y="543" width="3" height="7" fill="#92d2cc"/>
<rect x="110" y="546" width="3" height="4" fill="#92d2cc"/>
<rect x="115" y="544" width="3" height="6" fill="#f7a9a7"/>
<rect x="120" y="543" width="3" height="7" fill="#92d2cc"/>
<rect x="124" y="545" width="3" height="5" fill="#92d2cc"/>
<rect x="129" y="545" width="3" height="5" fill="#f7a9a7"/>
<rect x="133" y="545" width="3" height="5" fill="#f7a9a7"/>
<rect x="138" y="545" width="3" height="5" fill="#f7a9a7"/>
<rect x="143" y="547" width="3" height="3" fill="#92d2cc"/>
<rect x="147" y="546" width="3" height="4" fill="#f7a9a7"/>
<rect x="152" y="545" width="3" height="5" fill="#f7a9a7"/>
<rect x="156" y="545" width="3" height="5" fill="#92d2cc"/>
<rect x="161" y="545" width="3" height="5" fill="#92d2cc"/>
<rect x="165" y="545" width="3" height="5" fill="#f7a9a7"/>
<rect x="170" y="545" width="3" height="5" fill="#f7a9a7"/>
<rect x="175" y="547" width="3" height="3" fill="#92d2cc"/>
<rect x="179" y="546" width="3" height="4" fill="#f7a9a7"/>
<rect x="184" y="546" width="3" height="4" fill="#92d2cc"/>
<rect x="188" y="544" width="3" height="6" fill="#92d2cc"/>
<rect x="193" y="544" width="3" height="6" fill="#92d2cc"/>
<rect x="198" y="546" width="3" height="4" fill="#92d2cc"/>
<rect x="202" y="544" width="3" height="6" fill="#92d2cc"/>
<rect x="207" y="546" width="3" height="4" fill="#92d2cc"/>
<rect x="211" y="546" width="3" height="4" fill="#f7a9a7"/>
<rect x="216" y="546" width="3" height="4" fill="#92d2cc"/>
<rect x="220" y="544" width="3" height="6" fill="#92d2cc"/>
<rect x="225" y="546" width="3" height="4" fill="#92d2cc"/>
<rect x="230" y="544" width="3" height="6" fill="#92d2cc"/>
<rect x="234" y="546" width="3" height="4" fill="#f7a9a7"/>
<rect x="239" y="547" width="3" height="3" fill="#92d2cc"/>
<rect x="243" y="546" width="3" height="4" fill="#92d2cc"/>
<rect x="248" y="546" width="3" height="4" fill="#92d2cc"/>
<rect x="253" y="546" width="3" height="4" fill="#92d2cc"/>
<rect x="257" y="546" width="3" height="4" fill="#f7a9a7"/>
<rect x="262" y="546" width="3" height="4" fill="#f7a9a7"/>
<rect x="266" y="546" width="3" height="4" fill="#92d2cc"/>
<rect x="271" y="546" width="3" height="4" fill="#f7a9a7"/>
<rect x="275" y="546" width="3" height="4" fill="#92d2cc"/>
<rect x="280" y="546" width="3" height="4" fill="#f7a9a7"/>
<rect x="285" y="546" width="3" height="4" fill="#f7a9a7"/>
<rect x="289" y="543" width="3" height="7" fill="#f7a9a7"/>
<rect x="294" y="546" width="3" height="4" fill="#92d2cc"/>
<rect x="298" y="546" width="3" height="4" fill="#f7a9a7"/>
<rect x="303" y="547" width="3" height="3" fill="#92d2cc"/>
<rect x="308" y="547" width="3" height="3" fill="#f7a9a7"/>
<rect x="312" y="543" width="3" height="7" fill="#f7a9a7"/>
<rect x="317" y="544" width="3" height="6" fill="#92d2cc"/>
<rect x="321" y="546" width="3" height="4" fill="#92d2cc"/>
<rect x="326" y="546" width="3" height="4" fill="#f7a9a7"/>
<rect x="330" y="547" width="3" height="3" fill="#92d2cc"/>
<rect x="335" y="548" width="3" height="2" fill="#92d2cc"/>
<rect x="340" y="547" width="3" height="3" fill="#f7a9a7"/>
<rect x="344" y="546" width="3" height="4" fill="#92d2cc"/>
<rect x="349" y="546" width="3" height="4" fill="#92d2cc"/>
<rect x="353" y="546" width="3" height="4" fill="#f7a9a7"/>
<rect x="358" y="544" width="3" height="6" fill="#f7a9a7"/>
<rect x="363" y="546" width="3" height="4" fill="#f7a9a7"/>
<rect x="367" y="548" width="3" height="2" fill="#f7a9a7"/>
<rect x="372" y="547" width="3" height="3" fill="#f7a9a7"/>
<rect x="376" y="544" width="3" height="6" fill="#92d2cc"/>
<rect x="381" y="546" width="3" height="4" fill="#f7a9a7"/>
<rect x="385" y="546" width="3" height="4" fill="#92d2cc"/>
<rect x="390" y="546" width="3" height="4" fill="#92d2cc"/>
<rect x="395" y="546" width="3" height="4" fill="#f7a9a7"/>
<rect x="399" y="546" width="3" height="4" fill="#f7a9a7"/>
<rect x="404" y="546" width="3" height="4" fill="#92d2cc"/>
<rect x="408" y="546" width="3" height="4" fill="#92d2cc"/>
<rect x="413" y="546" width="3" height="4" fill="#f7a9a7"/>
<rect x="418" y="546" width="3" height="4" fill="#92d2cc"/>
<rect x="422" y="543" width="3" height="7" fill="#f7a9a7"/>
<rect x="427" y="543" width="3" height="7" fill="#f7a9a7"/>
<rect x="431" y="546" width="3" height="4" fill="#f7a9a7"/>
<rect x="436" y="543" width="3" height="7" fill="#f7a9a7"/>
<rect x="440" y="536" width="3" height="14" fill="#f7a9a7"/>
<rect x="445" y="536" width="3" height="14" fill="#92d2cc"/>
<rect x="450" y="532" width="3" height="18" fill="#f7a9a7"/>
<rect x="454" y="530" width="3" height="20" fill="#f7a9a7"/>
<rect x="459" y="540" width="3" height="10" fill="#92d2cc"/>
<rect x="463" y="544" width="3" height="6" fill="#92d2cc"/>
<rect x="468" y="545" width="3" height="5" fill="#92d2cc"/>
<rect x="473" y="542" width="3" height="8" fill="#f7a9a7"/>
<rect x="477" y="544" width="3" height="6" fill="#92d2cc"/>
<rect x="482" y="544" width="3" height="6" fill="#f7a9a7"/>
<rect x="486" y="543" width="3" height="7" fill="#92d2cc"/>
<rect x="491" y="544" width="3" height="6" fill="#f7a9a7"/>
<rect x="495" y="547" width="3" height="3" fill="#92d2cc"/>
<rect x="500" y="546" width="3" height="4" fill="#92d2cc"/>
<rect x="505" y="544" width="3" height="6" fill="#f7a9a7"/>
<rect x="509" y="545" width="3" height="5" fill="#92d2cc"/>
<rect x="514" y="545" width="3" height="5" fill="#f7a9a7"/>
<rect x="518" y="539" width="3" height="11" fill="#f7a9a7"/>
<rect x="523" y="538" width="3" height="12" fill="#f7a9a7"/>
<rect x="528" y="544" width="3" height="6" fill="#92d2cc"/>
<rect x="532" y="546" width="3" height="4" fill="#92d2cc"/>
<rect x="537" y="543" width="3" height="7" fill="#92d2cc"/>
<rect x="541" y="543" width="3" height="7" fill="#f7a9a7"/>
<rect x="546" y="541" width="3" height="9" fill="#f7a9a7"/>
<rect x="550" y="544" width="3" height="6" fill="#92d2cc"/>
<rect x="555" y="544" width="3" height="6" fill="#f7a9a7"/>
<rect x="560" y="546" width="3" height="4" fill="#92d2cc"/>
<rect x="564" y="546" width="3" height="4" fill="#92d2cc"/>
<rect x="569" y="543" width="3" height="7" fill="#92d2cc"/>
<rect x="573" y="538" width="3" height="12" fill="#f7a9a7"/>
<rect x="578" y="541" width="3" height="9" fill="#f7a9a7"/>
<rect x="582" y="545" width="3" height="5" fill="#f7a9a7"/>
<rect x="587" y="541" width="3" height="9" fill="#f7a9a7"/>
<rect x="592" y="539" width="3" height="11" fill="#f7a9a7"/>
<rect x="596" y="536" width="3" height="14" fill="#f7a9a7"/>
<rect x="601" y="519" width="3" height="31" fill="#f7a9a7"/>
<rect x="605" y="527" width="3" height="23" fill="#f7a9a7"/>
<rect x="610" y="523" width="3" height="27" fill="#92d2cc"/>
<rect x="615" y="537" width="3" height="13" fill="#f7a9a7"/>
<rect x="619" y="539" width="3" height="11" fill="#92d2cc"/>
<rect x="624" y="530" width="3" height="20" fill="#f7a9a7"/>
<rect x="628" y="532" width="3" height="18" fill="#92d2cc"/>
<rect x="633" y="535" width="3" height="15" fill="#f7a9a7"/>
<rect x="637" y="538" width="3" height="12" fill="#f7a9a7"/>
<rect x="642" y="538" width="3" height="12" fill="#f7a9a7"/>
<rect x="647" y="539" width="3" height="11" fill="#92d2cc"/>
<rect x="651" y="538" width="3" height="12" fill="#92d2cc"/>
<rect x="656" y="542" width="3" height="8" fill="#92d2cc"/>
<rect x="660" y="542" width="3" height="8" fill="#f7a9a7"/>
<rect x="665" y="542" width="3" height="8" fill="#f7a9a7"/>
<rect x="670" y="540" width="3" height="10" fill="#f7a9a7"/>
<rect x="674" y="538" width="3" height="12" fill="#f7a9a7"/>
<rect x="679" y="537" width="3" height="13" fill="#f7a9a7"/>
<rect x="683" y="536" width="3" height="14" fill="#f7a9a7"/>
<rect x="688" y="543" width="3" height="7" fill="#92d2cc"/>
<rect x="692" y="544" width="3" height="6" fill="#92d2cc"/>
<rect x="697" y="540" width="3" height="10" fill="#92d2cc"/>
<rect x="702" y="539" width="3" height="11" fill="#f7a9a7"/>
<rect x="706" y="539" width="3" height="11" fill="#92d2cc"/>
<rect x="711" y="541" width="3" height="9" fill="#92d2cc"/>
<rect x="715" y="539" width="3" height="11" fill="#f7a9a7"/>
<rect x="720" y="544" width="3" height="6" fill="#92d2cc"/>
<rect x="725" y="541" width="3" height="9" fill="#f7a9a7"/>
<rect x="729" y="539" width="3" height="11" fill="#f7a9a7"/>
<rect x="734" y="539" width="3" height="11" fill="#f7a9a7"/>
<rect x="738" y="532" width="3" height="18" fill="#92d2cc"/>
<rect x="743" y="536" width="3" height="14" fill="#92d2cc"/>
<rect x="747" y="537" width="3" height="13" fill="#92d2cc"/>
<rect x="752" y="537" width="3" height="13" fill="#92d2cc"/>
<rect x="757" y="539" width="3" height="11" fill="#f7a9a7"/>
<rect x="761" y="532" width="3" height="18" fill="#92d2cc"/>
<rect x="766" y="534" width="3" height="16" fill="#f7a9a7"/>
<rect x="770" y="539" width="3" height="11" fill="#f7a9a7"/>
<rect x="775" y="539" width="3" height="11" fill="#92d2cc"/>
<rect x="780" y="539" width="3" height="11" fill="#f7a9a7"/>
<rect x="784" y="542" width="3" height="8" fill="#92d2cc"/>
<rect x="789" y="541" width="3" height="9" fill="#92d2cc"/>
<rect x="793" y="537" width="3" height="13" fill="#f7a9a7"/>
<rect x="798" y="538" width="3" height="12" fill="#92d2cc"/>
<rect x="802" y="538" width="3" height="12" fill="#92d2cc"/>
<rect x="807" y="536" width="3" height="14" fill="#92d2cc"/>
<rect x="812" y="539" width="3" height="11" fill="#f7a9a7"/>
<rect x="816" y="543" width="3" height="7" fill="#f7a9a7"/>
<rect x="821" y="543" width="3" height="7" fill="#f7a9a7"/>
<rect x="825" y="542" width="3" height="8" fill="#f7a9a7"/>
<rect x="830" y="540" width="3" height="10" fill="#92d2cc"/>
<rect x="835" y="543" width="3" height="7" fill="#f7a9a7"/>
<rect x="839" y="543" width="3" height="7" fill="#f7a9a7"/>
<rect x="844" y="541" width="3" height="9" fill="#92d2cc"/>
<rect x="848" y="545" width="3" height="5" fill="#f7a9a7"/>
<rect x="853" y="545" width="3" height="5" fill="#92d2cc"/>
<rect x="857" y="543" width="3" height="7" fill="#92d2cc"/>
<rect x="862" y="542" width="3" height="8" fill="#f7a9a7"/>
<rect x="867" y="538" width="3" height="12" fill="#92d2cc"/>
<rect x="871" y="540" width="3" height="10" fill="#92d2cc"/>
<rect x="876" y="543" width="3" height="7" fill="#92d2cc"/>
<rect x="880" y="543" width="3" height="7" fill="#92d2cc"/>
<rect x="885" y="544" width="3" height="6" fill="#f7a9a7"/>
<rect x="890" y="542" width="3" height="8" fill="#f7a9a7"/>
<rect x="894" y="544" width="3" height="6" fill="#f7a9a7"/>
<rect x="899" y="541" width="3" height="9" fill="#f7a9a7"/>
<rect x="903" y="544" width="3" height="6" fill="#92d2cc"/>
<rect x="908" y="537" width="3" height="13" fill="#f7a9a7"/>
<rect x="912" y="542" width="3" height="8" fill="#f7a9a7"/>
<rect x="917" y="543" width="3" height="7" fill="#92d2cc"/>
<rect x="922" y="541" width="3" height="9" fill="#92d2cc"/>
<rect x="926" y="541" width="3" height="9" fill="#92d2cc"/>
<rect x="931" y="543" width="3" height="7" fill="#f7a9a7"/>
<rect x="935" y="544" width="3" height="6" fill="#92d2cc"/>
<rect x="940" y="540" width="3" height="10" fill="#f7a9a7"/>
<rect x="945" y="543" width="3" height="7" fill="#f7a9a7"/>
<rect x="949" y="545" width="3" height="5" fill="#f7a9a7"/>
<rect x="954" y="542" width="3" height="8" fill="#92d2cc"/>
<rect x="958" y="541" width="3" height="9" fill="#f7a9a7"/>
<rect x="963" y="541" width="3" height="9" fill="#92d2cc"/>
<rect x="967" y="543" width="3" height="7" fill="#92d2cc"/>
<rect x="972" y="542" width="3" height="8" fill="#f7a9a7"/>
<rect x="977" y="546" width="3" height="4" fill="#f7a9a7"/>
<rect x="981" y="547" width="3" height="3" fill="#92d2cc"/>
<rect x="986" y="545" width="3" height="5" fill="#92d2cc"/>
<rect x="990" y="541" width="3" height="9" fill="#f7a9a7"/>
<rect x="995" y="542" width="3" height="8" fill="#92d2cc"/>
<rect x="1000" y="544" width="3" height="6" fill="#92d2cc"/>
<rect x="1004" y="542" width="3" height="8" fill="#92d2cc"/>
<rect x="1009" y="546" width="3" height="4" fill="#92d2cc"/>
<rect x="1013" y="546" width="3" height="4" fill="#f7a9a7"/>
<rect x="1018" y="544" width="3" height="6" fill="#f7a9a7"/>
<rect x="1022" y="540" width="3" height="10" fill="#f7a9a7"/>
<rect x="1027" y="543" width="3" height="7" fill="#92d2cc"/>
<rect x="1032" y="538" width="3" height="12" fill="#f7a9a7"/>
<rect x="1036" y="543" width="3" height="7" fill="#f7a9a7"/>
<rect x="1041" y="546" width="3" height="4" fill="#92d2cc"/>
<rect x="1045" y="542" width="3" height="8" fill="#f7a9a7"/>
<rect x="1050" y="541" width="3" height="9" fill="#92d2cc"/>
<rect x="1055" y="543" width="3" height="7" fill="#f7a9a7"/>
<rect x="1059" y="539" width="3" height="11" fill="#f7a9a7"/>
<rect x="1064" y="548" width="3" height="2" fill="#92d2cc"/>
<polyline fill="none" stroke="#3030ff" stroke-width="1.6" stroke-linejoin="round" stroke-linecap="round" points="10,544.3 60,544.5 80,545.3 200,545.2 440,545.2 450,543 460,541.6 520,541.2 530,540.9 556,543.1 590,542 611,538.5 628,536.6 645,535.4 688,535.4 693,538.3 716,539.3 740,538.3 811,538.3 835,539 859,540.7 907,541.9 950,542 1000,542.2 1040,542.5 1064.5,543.3" opacity="0.8"/>
</g>
<text x="1437.9" y="521.2" font-size="12.3" fill="#131722" textLength="16" lengthAdjust="spacingAndGlyphs">4M</text>
<path d="M1428 523.1 H1491.7 Q1493.7 523.1 1493.7 525.1 V537.9 Q1493.7 539.9 1491.7 539.9 H1428 Z" fill="#3030ff"/>
<path d="M1428 540.2 H1491.7 Q1493.7 540.2 1493.7 542.2 V552 Q1493.7 554 1491.7 554 H1428 Z" fill="#26a69a"/>
<text x="1438.1" y="536" font-size="12.3" fill="#fff" textLength="49.2" lengthAdjust="spacingAndGlyphs" font-weight="bold">701.549K</text>
<defs><clipPath id="cpl"><rect x="1428" y="540" width="80" height="14"/></clipPath></defs>
<text x="1438.1" y="553.2" font-size="12.3" fill="#fff" textLength="49.2" lengthAdjust="spacingAndGlyphs" font-weight="bold" clip-path="url(#cpl)">136.322K</text>
<rect x="11" y="566.2" width="1416.5" height="47.1" fill="#f2eef9"/>
<line x1="11" y1="566.2" x2="1427.5" y2="566.2" stroke="#696c77" stroke-width="1" stroke-dasharray="5 6" stroke-dashoffset="1"/>
<line x1="11" y1="589.5" x2="1427.5" y2="589.5" stroke="#a5a8b1" stroke-width="1" stroke-dasharray="5 6" stroke-dashoffset="1"/>
<line x1="11" y1="613.3" x2="1427.5" y2="613.3" stroke="#696c77" stroke-width="1" stroke-dasharray="5 6" stroke-dashoffset="1"/>
<polyline fill="none" stroke="#50535e" stroke-width="1.2" stroke-linejoin="round" stroke-linecap="round" points="9.99,585.91 14.27,584.01 19.02,582.34 23.78,579.25 28.53,580.2 33.76,575.69 38.04,584.72 42.8,590.67 47.56,591.38 51.84,593.52 55.88,590.19 60.63,579.49 65.39,583.06 70.15,593.04 75.61,597.09 78.94,597.8 84.41,602.56 88.45,604.22 93.21,600.18 98.68,602.08 102.25,601.37 107,592.57 110.57,592.09 115.8,598.51 120.79,585.2 124.83,583.06 129.59,584.48 134.35,590.19 139.1,597.8 143.86,596.14 148.61,599.7 152.66,601.37 156.94,596.61 161.69,590.67 166.45,595.42 171.2,597.09 175.96,596.61 180.24,598.28 184.99,594.71 189.04,593.04 193.79,585.44 198.55,583.53 203.3,578.3 208.06,578.06 212.34,583.53 216.38,582.34 221.14,578.3 225.89,575.69 230.65,572.83 234.93,573.31 238.97,571.64 243.01,566.18 247.29,564.99 254.43,562.61 257.99,563.8 262.75,572.12 266.79,566.18 271.55,566.89 275.83,564.51 280.58,564.99 285.34,573.55 289.62,588.29 294.85,585.44 298.41,587.34 303.88,584.01 308.64,587.58 312.68,598.28 317.44,595.9 322.19,590.67 326.95,595.42 331.7,594.23 335.27,593.52 341.22,596.61 345.97,592.33 350.36,589.72 353.93,590.9 359.04,596.14 363.08,597.32 367.83,598.99 372.59,599.46 376.63,593.52 382.1,603.75 386.14,597.8 390.9,594.95 395.18,599.7 399.93,604.46 405.17,598.28 409.45,596.14 413.73,599.7 418.96,590.19 423.24,598.99 427.28,600.89 432.75,604.22 436.79,607.79 440.83,615.63 445.59,609.21 450.34,614.92 455.1,618.01 459.38,615.63 464.13,612.78 468.89,607.31 473.65,610.4 478.4,606.84 483.16,611.35 486.72,605.89 491.48,607.31 496.24,606.6 500.99,603.27 505.75,605.17 510.5,604.93 515.26,606.36 519.3,611.35 523.58,612.78 528.81,609.21 533.09,606.84 537.85,595.9 542.13,598.51 546.88,603.75 551.64,602.56 556.39,604.46 561.15,602.56 565.19,602.56 569.95,598.75 574.7,600.89 580.17,602.08 584.21,602.56 588.26,608.5 593.01,613.73 597.29,617.3 602.05,622.77 606.33,622.77 611.08,620.15 616.31,624.43 620.59,622.77 625.35,624.67 629.39,613.26 634.15,613.26 638.9,613.26 642.95,616.35 647.7,609.69 652.46,602.56 657.21,601.37 661.49,603.27 666.25,603.75 671,605.65 675.76,607.79 680.52,609.21 685.27,609.69 692.4,608.5 697.64,600.18 700,600.68 702.21,601.16 707.03,595.66 711.29,591.39 716.31,593.15 720.58,592.9 725.1,596.41 730.12,602.19 734.64,606.45 738.9,598.17 743.92,591.39 747.69,587.63 752.71,578.84 757.73,580.1 761.49,566.29 766.51,570.06 771.53,572.57 775.8,570.31 780.82,573.82 785.34,573.32 789.85,570.56 794.12,584.62 799.14,583.86 803.41,573.82 808.43,569.56 812.95,570.06 817.97,572.57 822.48,574.33 826.75,578.09 831.77,578.09 835.54,579.35 839.8,580.1 844.32,572.07 848.84,576.59 853.1,576.08 857.62,571.57 863.14,578.84 868.16,570.56 872.68,569.06 876.95,565.79 880.71,564.54 886.24,569.56 890.75,573.07 895.77,576.33 899.54,579.35 903.8,578.84 908.82,597.17 913.34,599.43 918.36,595.91 922.88,595.16 927.15,592.15 931.41,592.65 935.93,589.39 940.45,601.94 945.97,603.19 949.74,606.96 954.76,595.66 959.78,596.92 964.8,594.66 968.56,592.65 973.58,593.15 978.6,594.41 983.12,591.9 986.63,588.88 991.15,593.9 996.17,587.63 1000.69,587.13 1004.95,580.85 1010.73,576.84 1014.24,577.59 1019.26,582.61 1023.28,594.66 1027.54,589.64 1032.56,600.18 1036.83,602.69 1041.85,600.18 1046.37,606.45 1051.39,603.19 1056.41,605.7 1060.17,609.46 1064.44,607.71"/>
<text x="1440.4" y="605.4" font-size="12.3" fill="#131722" textLength="27" lengthAdjust="spacingAndGlyphs">40.00</text>
<path d="M1428 600 H1472 Q1474 600 1474 602 V614.7 Q1474 616.7 1472 616.7 H1428 Z" fill="#434651"/>
<text x="1437.9" y="613.2" font-size="12.7" fill="#fff" textLength="29.7" lengthAdjust="spacingAndGlyphs" font-weight="bold">34.08</text>
<text x="115.6" y="649.9" font-size="12" fill="#131722" textLength="19.2" lengthAdjust="spacingAndGlyphs">Mar</text>
<text x="257.7" y="649.9" font-size="12" fill="#131722" textLength="19.2" lengthAdjust="spacingAndGlyphs">Apr</text>
<text x="394" y="649.9" font-size="12" fill="#131722" textLength="21.3" lengthAdjust="spacingAndGlyphs">May</text>
<text x="536.1" y="649.9" font-size="12" fill="#131722" textLength="20.5" lengthAdjust="spacingAndGlyphs">Jun</text>
<text x="676.6" y="649.9" font-size="12" fill="#131722" textLength="15.9" lengthAdjust="spacingAndGlyphs">Jul</text>
<text x="816.4" y="649.9" font-size="12" fill="#131722" textLength="20.5" lengthAdjust="spacingAndGlyphs">Aug</text>
<text x="958.5" y="649.9" font-size="12" fill="#131722" textLength="19.6" lengthAdjust="spacingAndGlyphs">Sep</text>
<text x="1096" y="649.9" font-size="12" fill="#131722" textLength="19.3" lengthAdjust="spacingAndGlyphs">Oct</text>
<text x="1237.4" y="649.9" font-size="12" fill="#131722" textLength="21.2" lengthAdjust="spacingAndGlyphs">Nov</text>
<text x="1375.4" y="649.9" font-size="12" fill="#131722" textLength="20.4" lengthAdjust="spacingAndGlyphs">Dec</text>
<path d="M10.1 672.1H17.7V681.7H14.2V675.8H10.1Z" fill="#131722"/>
<circle cx="21" cy="674.2" r="2" fill="#131722"/>
<path d="M25.2 672.1H29.5L25.9 681.7H21.3Z" fill="#131722"/>
<text x="33.2" y="681.9" font-size="13" fill="#131722" textLength="70.2" lengthAdjust="spacingAndGlyphs">TradingView</text>
</svg></body></html>
